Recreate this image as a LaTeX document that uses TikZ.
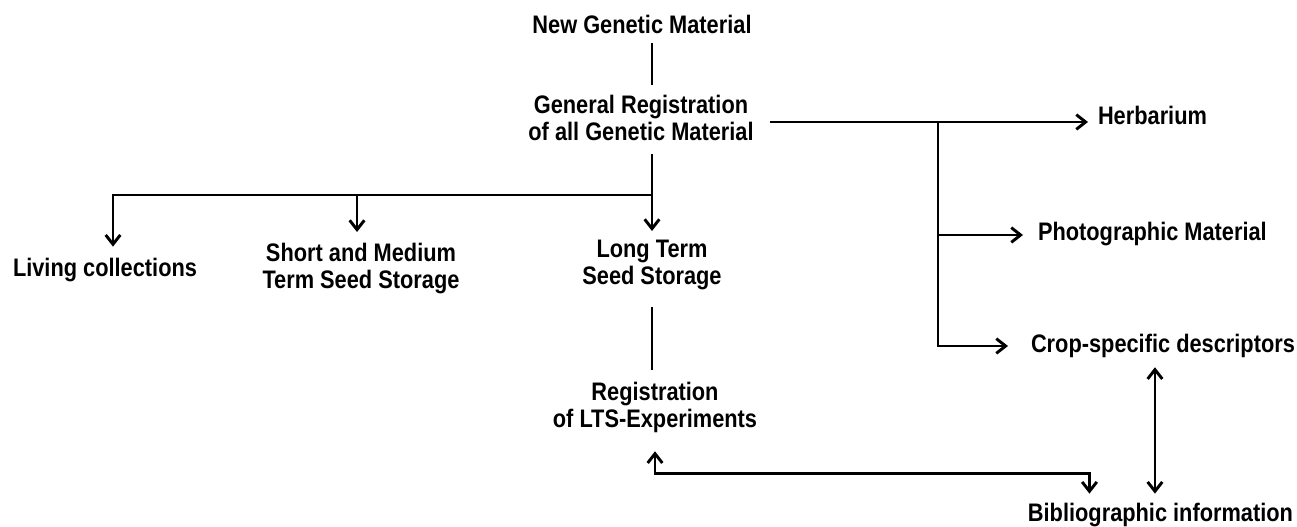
\documentclass[tikz,border=0pt]{standalone}
\usepackage{fontspec}
\setmainfont{Liberation Sans}[FakeStretch=0.86]
\usetikzlibrary{arrows.meta,calc}
\begin{document}
\begin{tikzpicture}[x=0.75pt,y=-0.75pt,
  every node/.style={inner sep=0pt,outer sep=0pt,font=\bfseries\fontsize{19}{20}\selectfont},
  ln/.style={line width=2.2pt},
  arr/.style={ln,-{Straight Barb[length=7pt,width=11pt]}},
  dbl/.style={ln,{Straight Barb[length=7pt,width=11pt]}-{Straight Barb[length=7pt,width=11pt]}}]
\useasboundingbox (0,0) rectangle (1297,527);
% nodes
\node[anchor=base] (ngm) at (642,34) {New Genetic Material};
\node[anchor=north,align=center] (gr) at (641,95) {General Registration\\of all Genetic Material};
\node[anchor=base west] (herb) at (1098,125) {Herbarium};
\node[anchor=base west] (photo) at (1038,241) {Photographic Material};
\node[anchor=base west] (crop) at (1031,353) {Crop-specific descriptors};
\node[anchor=base west] (living) at (13,277) {Living collections};
\node[anchor=north,align=center] (sm) at (361,243) {Short and Medium\\Term Seed Storage};
\node[anchor=north,align=center] (lt) at (652,240) {Long Term\\Seed Storage};
\node[anchor=north,align=center] (reg) at (655,382) {Registration\\of LTS-Experiments};
\node[anchor=base east] (bib) at (1293,521) {Bibliographic information};
% junctions
\coordinate (sp) at (652,195);
\coordinate (rb) at (938,122);
% connectors
\draw[ln] ($(ngm.south -| sp)+(0,9)$) -- ($(gr.north -| sp)+(0,-10)$);
\draw[arr] ($(gr.south -| sp)+(0,14)$) -- ($(lt.north -| sp)+(0,-9)$);
\draw[arr] (sp) -| ($(living.north)+(8,-12)$);
\draw[arr] ($(sm.north |- sp)+(-4,0)$) -- ($(sm.north)+(-4,-11)$);
\draw[arr] ($(gr.east |- rb)+(16,0)$) -- ($(herb.west |- rb)+(-10,0)$);
\coordinate (pa) at ($(photo.base west)+(-15,-6)$);
\draw[arr] (pa -| rb) -- (pa);
\coordinate (ca) at ($(crop.base west)+(-23,-7)$);
\draw[arr] (rb) |- (ca);
\draw[ln] ($(lt.south -| sp)+(0,18)$) -- ($(reg.north -| sp)+(0,-12)$);
\coordinate (ra) at ($(reg.south)+(0,19)$);
\coordinate (ba) at ($(bib.north)+(-71,-9)$);
\draw[dbl] (ra) -- ($(ra)+(0,22)$) -| (ba);
\coordinate (ct) at ($(crop.south)+(-8,9)$);
\draw[dbl] (ct) -- (ct |- ba);
\end{tikzpicture}
\end{document}
